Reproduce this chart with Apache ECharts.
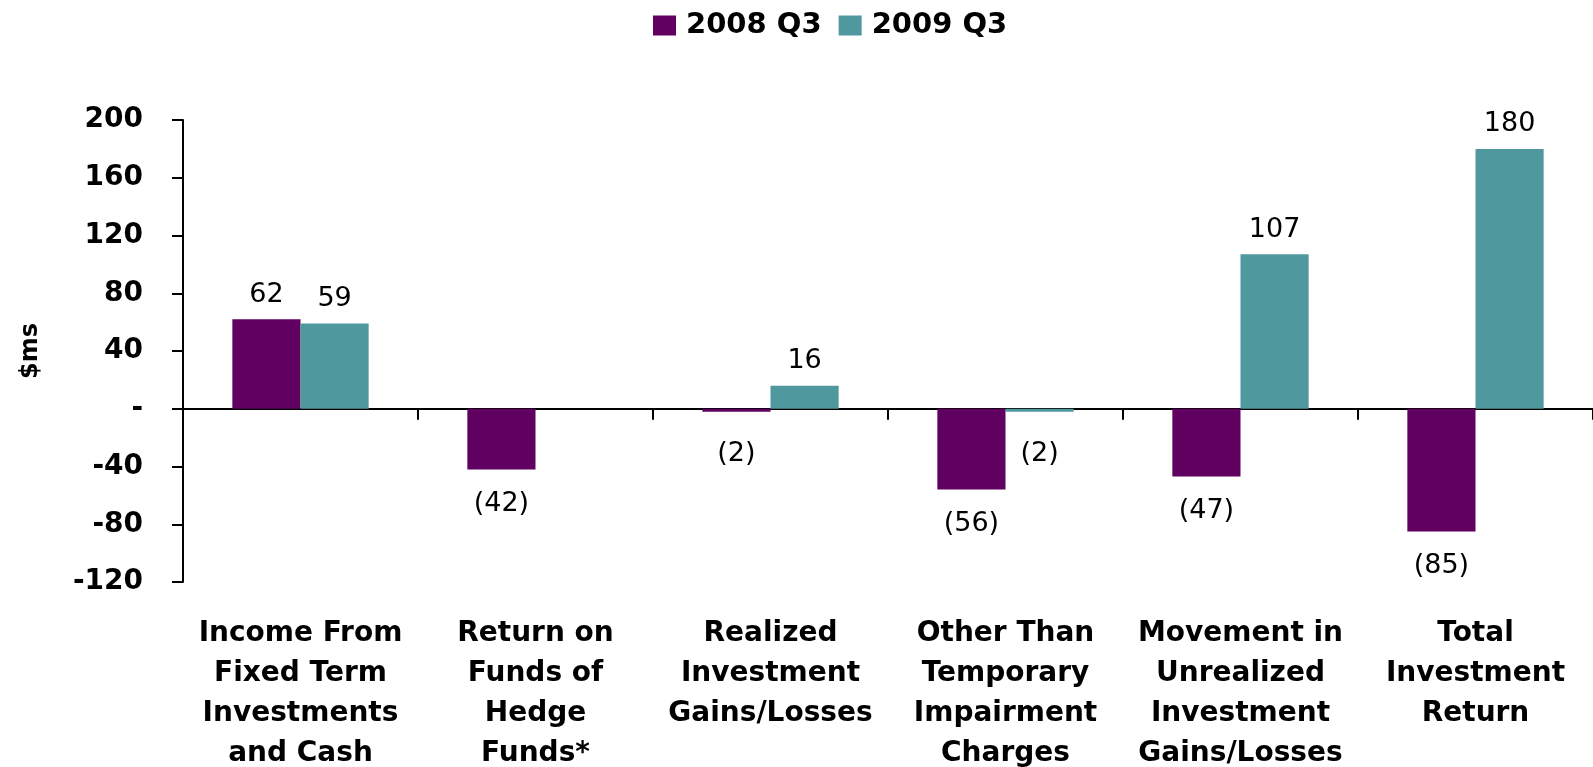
<!DOCTYPE html>
<html>
<head>
<meta charset="utf-8">
<script src="https://cdn.jsdelivr.net/npm/echarts@6/dist/echarts.min.js"></script>
<style>
html,body{margin:0;padding:0;background:#fff;}
#c{width:1593px;height:767px;}
</style>
</head>
<body>
<div id="c"></div>
<script>
const categories = [
  "Income From\nFixed Term\nInvestments\nand Cash",
  "Return on\nFunds of\nHedge\nFunds*",
  "Realized\nInvestment\nGains/Losses",
  "Other Than\nTemporary\nImpairment\nCharges",
  "Movement in\nUnrealized\nInvestment\nGains/Losses",
  "Total\nInvestment\nReturn"
];
const seriesNames = ["2008 Q3", "2009 Q3"];
const q3_2008 = [62, -42, -2, -56, -47, -85];
const q3_2009 = [59, null, 16, -2, 107, 180];
const yMin = -120, yMax = 200, yStep = 40;

const FONT = "'DejaVu Sans', sans-serif";
const colors = ['#600060', '#4F989E'];

function fmt(v) {
  return v < 0 ? '(' + Math.abs(v) + ')' : String(v);
}
function toData(arr) {
  return arr.map(v => {
    if (v === null) return '-';
    if (v < 0) {
      return { value: v, label: { distance: 21, offset: v > -5 ? [0, 8] : [0, 0] } };
    }
    return v;
  });
}
const labelCfg = {
  show: true,
  position: 'outside',
  distance: 11,
  fontFamily: FONT,
  fontSize: 27,
  color: '#000',
  formatter: p => fmt(p.value)
};

const chart = echarts.init(document.getElementById('c'));
chart.setOption({
  animation: false,
  textStyle: { fontFamily: FONT },
  color: colors,
  legend: {
    left: 653, top: 11, padding: 0,
    itemWidth: 23, itemHeight: 20, itemGap: 17,
    icon: 'rect',
    textStyle: { fontFamily: FONT, fontSize: 29, fontWeight: 'bold', color: '#000', padding: [0, 0, 0, 5] },
    data: seriesNames
  },
  grid: { left: 183, right: 0, top: 120, bottom: 185, containLabel: false, outerBoundsMode: 'none' },
  xAxis: [
    {
      type: 'category', data: categories, position: 'bottom',
      axisLine: { onZero: true, lineStyle: { color: '#000', width: 2 } },
      axisTick: { show: true, length: 11, lineStyle: { color: '#000', width: 2 } },
      axisLabel: { show: false }
    },
    {
      type: 'category', data: categories, position: 'bottom',
      axisLine: { show: false, onZero: false },
      axisTick: { show: false },
      axisLabel: {
        interval: 0, margin: 32,
        fontFamily: FONT, fontSize: 28, fontWeight: 'bold', color: '#000',
        lineHeight: 40
      }
    }
  ],
  yAxis: {
    type: 'value', min: yMin, max: yMax, interval: yStep,
    name: '$ms', nameLocation: 'middle', nameGap: 140, nameRotate: 90,
    nameTextStyle: { fontFamily: FONT, fontSize: 24, fontWeight: 'bold', color: '#000' },
    splitLine: { show: false },
    axisLine: { show: true, lineStyle: { color: '#000', width: 2 } },
    axisTick: { show: true, length: 11, lineStyle: { color: '#000', width: 2 } },
    axisLabel: {
      margin: 40, fontFamily: FONT, fontSize: 28, fontWeight: 'bold', color: '#000',
      formatter: v => v === 0 ? '-' : String(v)
    }
  },
  series: [
    {
      name: seriesNames[0], type: 'bar', xAxisIndex: 0,
      data: toData(q3_2008), barGap: '0%', barCategoryGap: '42%',
      itemStyle: { color: colors[0] }, label: labelCfg
    },
    {
      name: seriesNames[1], type: 'bar', xAxisIndex: 0,
      data: toData(q3_2009), barGap: '0%', barCategoryGap: '42%',
      itemStyle: { color: colors[1] }, label: labelCfg
    }
  ]
});
</script>
</body>
</html>
